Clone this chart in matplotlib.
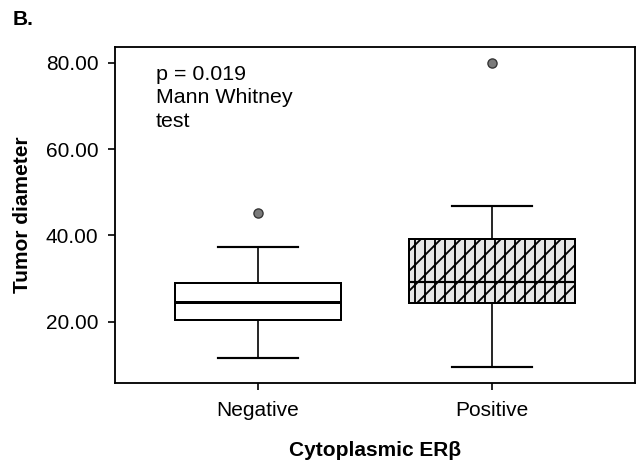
import matplotlib
matplotlib.use("Agg")
import matplotlib.pyplot as plt

# Values (box plot summary per group)
categories = ["Negative", "Positive"]
whisker_low = [11.6, 9.6]
q1 = [20.3, 24.4]
median = [24.5, 29.3]
q3 = [29.1, 39.3]
whisker_high = [37.4, 46.9]
outliers = [[45.2], [80.0]]

y_ticks = [20, 40, 60, 80]
y_tick_labels = ["20.00", "40.00", "60.00", "80.00"]

plt.rcParams["font.family"] = ["Liberation Sans", "DejaVu Sans"]
plt.rcParams["hatch.linewidth"] = 1.1

DPI = 120
fig = plt.figure(figsize=(639 / DPI, 462 / DPI), dpi=DPI)
ax = fig.add_axes([115 / 639, 1 - 383 / 462, 520 / 639, 336 / 462])

stats = []
for i, name in enumerate(categories):
    stats.append({
        "label": name,
        "whislo": whisker_low[i],
        "q1": q1[i],
        "med": median[i],
        "q3": q3[i],
        "whishi": whisker_high[i],
        "fliers": outliers[i],
    })

bp = ax.bxp(
    stats,
    positions=[1, 2],
    widths=0.71,
    capwidths=0.34,
    patch_artist=True,
    boxprops=dict(edgecolor="black", linewidth=1.2),
    medianprops=dict(color="black", linewidth=1.8),
    whiskerprops=dict(color="black", linewidth=1.0),
    capprops=dict(color="black", linewidth=1.3),
    flierprops=dict(marker="o", markersize=5.5, markerfacecolor="#7a7a7a",
                    markeredgecolor="#333333", markeredgewidth=0.8),
)
bp["boxes"][0].set_facecolor("white")
bp["boxes"][1].set_facecolor("#e8e8e8")
bp["boxes"][1].set_hatch("||//")
bp["medians"][1].set_linewidth(1.3)

ax.set_xlim(0.39, 2.61)
ax.set_ylim(5.8, 83.7)
ax.set_yticks(y_ticks)
ax.set_yticklabels(y_tick_labels)
ax.set_xticks([1, 2])
ax.set_xticklabels(categories)
ax.tick_params(axis="both", direction="out", length=4, width=1.0,
               labelsize=12.5, colors="black")
ax.tick_params(axis="y", pad=6)
ax.tick_params(axis="x", pad=7)
for sp in ax.spines.values():
    sp.set_linewidth(1.1)

ax.set_ylabel("Tumor diameter", fontsize=12.5, fontweight="bold")
ax.yaxis.set_label_coords(-0.16, 0.5)
ax.set_xlabel("Cytoplasmic ERβ", fontsize=12.5, fontweight="bold")
ax.xaxis.set_label_coords(0.5, -0.172)

ax.text(0.565, 79.5, "p = 0.019\nMann Whitney\ntest", fontsize=12.8,
        va="top", ha="left", linespacing=1.28)

fig.text(13 / 639, 1 - 25 / 462, "B.", fontsize=12.5, fontweight="bold",
         va="baseline", ha="left")

fig.savefig("out.png", dpi=DPI, facecolor="white")
